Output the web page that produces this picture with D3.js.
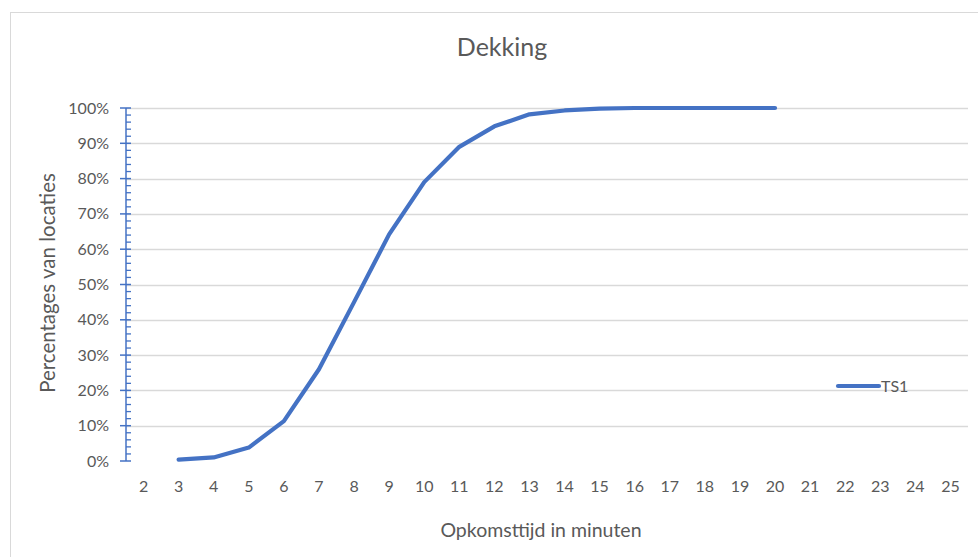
<!DOCTYPE html>
<html>
<head>
<meta charset="utf-8">
<script src="https://cdn.jsdelivr.net/npm/d3@7"></script>
<style>
  body { margin: 0; background: #fff; }
  svg { display: block; font-family: Lato, "Open Sans", sans-serif; }
</style>
</head>
<body>
<div id="chart"></div>
<script>
// minutes on the x axis (categories)
const minutes = ["2", "3", "4", "5", "6", "7", "8", "9", "10", "11", "12", "13",
  "14", "15", "16", "17", "18", "19", "20", "21", "22", "23", "24", "25"];
// TS1 coverage in percent, null where there is no point
const ts1 = [null, 0.4, 1.0, 3.8, 11.3, 26.0, 45.0, 64.2, 79.0, 89.0, 94.8, 98.2,
  99.3, 99.8, 100, 100, 100, 100, 100, null, null, null, null, null];
const yTicks = [0, 10, 20, 30, 40, 50, 60, 70, 80, 90, 100];
const seriesName = "TS1";

const width = 978, height = 557;
const blue = "#4472C4", grey = "#595959";

const svg = d3.select("#chart").append("svg")
  .attr("width", width)
  .attr("height", height);

// chart frame
svg.append("rect")
  .attr("x", 10.5).attr("y", 12.5)
  .attr("width", width).attr("height", height)
  .attr("fill", "#fff")
  .attr("stroke", "#d9d9d9");

const x = d3.scaleBand().domain(minutes).range([126, 968]);
const y = d3.scaleLinear().domain([0, 100]).range([461, 108]);

// gridlines (no line at 0%)
svg.append("g")
  .selectAll("line")
  .data(yTicks.filter(d => d > 0))
  .join("line")
  .attr("x1", 126).attr("x2", 968)
  .attr("y1", d => Math.round(y(d)) + 0.5)
  .attr("y2", d => Math.round(y(d)) + 0.5)
  .attr("stroke", "#d9d9d9")
  .attr("stroke-width", 1.3);

// y axis with minor ticks
const yAxis = svg.append("g").attr("transform", "translate(126,0)");
yAxis.append("line")
  .attr("y1", y(100)).attr("y2", y(0))
  .attr("stroke", blue).attr("stroke-width", 1.5);
yAxis.selectAll(".minor")
  .data(d3.range(0, 101, 2).filter(d => d % 10 !== 0))
  .join("line")
  .attr("class", "minor")
  .attr("x1", 0).attr("x2", 5)
  .attr("y1", d => y(d)).attr("y2", d => y(d))
  .attr("stroke", blue).attr("stroke-width", 1.3);
yAxis.selectAll(".major")
  .data(yTicks)
  .join("line")
  .attr("class", "major")
  .attr("x1", -6).attr("x2", 5)
  .attr("y1", d => y(d)).attr("y2", d => y(d))
  .attr("stroke", blue).attr("stroke-width", 1.5);
yAxis.selectAll("text")
  .data(yTicks)
  .join("text")
  .attr("x", -17)
  .attr("y", d => y(d) + 5.5)
  .attr("text-anchor", "end")
  .attr("fill", grey)
  .attr("font-size", 16)
  .text(d => d + "%");

// x labels
svg.append("g")
  .selectAll("text")
  .data(minutes)
  .join("text")
  .attr("x", d => x(d) + x.bandwidth() / 2)
  .attr("y", 492)
  .attr("text-anchor", "middle")
  .attr("fill", grey)
  .attr("font-size", 16)
  .text(d => d);

// the series
const points = minutes.map((m, i) => ({ m, v: ts1[i] }));
const line = d3.line()
  .defined(d => d.v !== null)
  .x(d => x(d.m) + x.bandwidth() / 2)
  .y(d => y(d.v));
svg.append("path")
  .datum(points)
  .attr("d", line)
  .attr("fill", "none")
  .attr("stroke", blue)
  .attr("stroke-width", 4.2)
  .attr("stroke-linejoin", "round")
  .attr("stroke-linecap", "round");

// titles
svg.append("text")
  .attr("x", 502).attr("y", 56)
  .attr("text-anchor", "middle")
  .attr("fill", grey)
  .attr("font-size", 25)
  .text("Dekking");

svg.append("text")
  .attr("transform", "translate(55,283) rotate(-90)")
  .attr("text-anchor", "middle")
  .attr("fill", grey)
  .attr("font-size", 20.5)
  .text("Percentages van locaties");

svg.append("text")
  .attr("x", 541).attr("y", 537)
  .attr("text-anchor", "middle")
  .attr("fill", grey)
  .attr("font-size", 19.5)
  .text("Opkomsttijd in minuten");

// legend
const legend = svg.append("g").attr("transform", "translate(838,386)");
legend.append("line")
  .attr("x1", 0).attr("x2", 41)
  .attr("stroke", blue)
  .attr("stroke-width", 4.2)
  .attr("stroke-linecap", "round");
legend.append("text")
  .attr("x", 43).attr("y", 6)
  .attr("fill", grey)
  .attr("font-size", 16)
  .text(seriesName);
</script>
</body>
</html>
